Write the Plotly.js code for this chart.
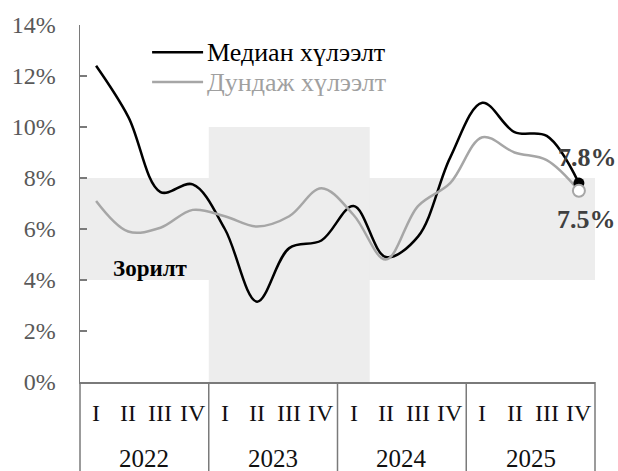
<!DOCTYPE html>
<html><head><meta charset="utf-8">
<script src="https://cdn.plot.ly/plotly-3.0.1.min.js"></script>
<style>body{margin:0;background:#fff}#chart{width:618px;height:471px}</style>
</head><body><div id="chart"></div>
<script>
const years = ['2022', '2023', '2024', '2025'];
const quarters = ['I', 'II', 'III', 'IV'];
const seriesNames = ['Медиан хүлээлт', 'Дундаж хүлээлт'];
const median = [12.4, 10.4, 7.45, 7.75, 6.0, 3.15, 5.25, 5.55, 6.9, 4.9, 5.7, 8.8, 10.95, 9.8, 9.65, 7.8];
const mean = [7.1, 5.9, 6.05, 6.75, 6.5, 6.1, 6.5, 7.6, 6.55, 4.8, 6.9, 7.8, 9.6, 9.0, 8.7, 7.5];
const targetLow = 4, targetHigh = 8;
const wideLow = 0, wideHigh = 10;           // wider band 2023 I - 2024 I
const wideStart = 4, wideEnd = 8;           // category indexes
const targetLabel = 'Зорилт';
const yTicks = [0, 2, 4, 6, 8, 10, 12, 14];

const FONT = 'Liberation Serif';
const BLACK = '#000000', GREY = '#a6a6a6', AXIS = '#7a7a7a';
const xs = median.map((_, i) => i);
const n = median.length;

const traces = [
  {x: xs, y: median, type: 'scatter', mode: 'lines', line: {color: BLACK, width: 2.5, shape: 'spline', smoothing: 1}, hoverinfo: 'skip'},
  {x: xs, y: mean, type: 'scatter', mode: 'lines', line: {color: GREY, width: 2.5, shape: 'spline', smoothing: 1}, hoverinfo: 'skip'},
  {x: [n - 1], y: [median[n - 1]], type: 'scatter', mode: 'markers', marker: {color: BLACK, size: 11}, hoverinfo: 'skip'},
  {x: [n - 1], y: [mean[n - 1]], type: 'scatter', mode: 'markers', marker: {color: '#ffffff', size: 12, line: {color: GREY, width: 2}}, hoverinfo: 'skip'}
];

const shapes = [
  {type: 'rect', xref: 'x', yref: 'y', x0: -0.5, x1: n - 0.5, y0: targetLow, y1: targetHigh, fillcolor: '#ededed', line: {width: 0}, layer: 'below'},
  {type: 'rect', xref: 'x', yref: 'y', x0: wideStart - 0.5, x1: wideEnd + 0.5, y0: wideLow, y1: wideHigh, fillcolor: '#ededed', line: {width: 0}, layer: 'below'}
];
for (let k = 0; k <= years.length; k++) {
  shapes.push({type: 'line', xref: 'paper', yref: 'paper', x0: k / years.length, x1: k / years.length, y0: 0, y1: -0.3, line: {color: AXIS, width: 1.5}});
}
// legend samples
const legY = [0.924, 0.840];
const legColors = [BLACK, GREY];
legY.forEach((yy, i) => shapes.push({type: 'line', xref: 'paper', yref: 'paper', x0: 0.14, x1: 0.239, y0: yy, y1: yy, line: {color: legColors[i], width: 2.5}}));

const annotations = [];
years.forEach((yr, yi) => {
  quarters.forEach((q, qi) => {
    annotations.push({x: yi * quarters.length + qi, y: -0.087, xref: 'x', yref: 'paper', text: q, showarrow: false, xanchor: 'center', yanchor: 'middle', font: {family: FONT, size: 24, color: '#111'}});
  });
  annotations.push({x: yi * quarters.length + (quarters.length - 1) / 2, y: -0.213, xref: 'x', yref: 'paper', text: yr, showarrow: false, xanchor: 'center', yanchor: 'middle', font: {family: FONT, size: 25, color: '#111'}});
});
seriesNames.forEach((nm, i) => annotations.push({x: 0.243, y: legY[i], xref: 'paper', yref: 'paper', text: nm, showarrow: false, xanchor: 'left', yanchor: 'middle', font: {family: FONT, size: 26, color: i === 0 ? BLACK : '#a0a0a0'}}));
annotations.push({x: 1.7, y: 4.47, xref: 'x', yref: 'y', text: '<b>' + targetLabel + '</b>', showarrow: false, xanchor: 'center', yanchor: 'middle', font: {family: FONT, size: 23, color: '#000'}});
annotations.push({x: n - 1, y: median[n - 1], xref: 'x', yref: 'y', text: '<b>' + median[n - 1].toFixed(1) + '%</b>', showarrow: false, xanchor: 'center', yanchor: 'middle', xshift: 9, yshift: 26, font: {family: FONT, size: 26, color: '#404040'}});
annotations.push({x: n - 1, y: mean[n - 1], xref: 'x', yref: 'y', text: '<b>' + mean[n - 1].toFixed(1) + '%</b>', showarrow: false, xanchor: 'center', yanchor: 'middle', xshift: 8, yshift: -29, font: {family: FONT, size: 26, color: '#404040'}});

const layout = {
  width: 618, height: 471,
  margin: {l: 80, r: 23, t: 25, b: 89, pad: 0},
  paper_bgcolor: '#fff', plot_bgcolor: '#fff',
  showlegend: false,
  font: {family: FONT},
  xaxis: {range: [-0.5, n - 0.5], showticklabels: false, ticks: '', showgrid: false, zeroline: false, showline: true, linecolor: AXIS, linewidth: 1.5, fixedrange: true},
  yaxis: {range: [0, 14], tickvals: yTicks, ticktext: yTicks.map(v => v + '%'), ticks: 'inside', ticklen: 7, tickwidth: 1.5, tickcolor: AXIS,
          showline: true, linecolor: AXIS, linewidth: 1.5, showgrid: false, zeroline: false, ticklabelstandoff: 18,
          tickfont: {family: FONT, size: 24, color: '#595959'}, fixedrange: true},
  shapes: shapes,
  annotations: annotations
};
Plotly.newPlot('chart', traces, layout, {displayModeBar: false, staticPlot: true});
</script></body></html>
